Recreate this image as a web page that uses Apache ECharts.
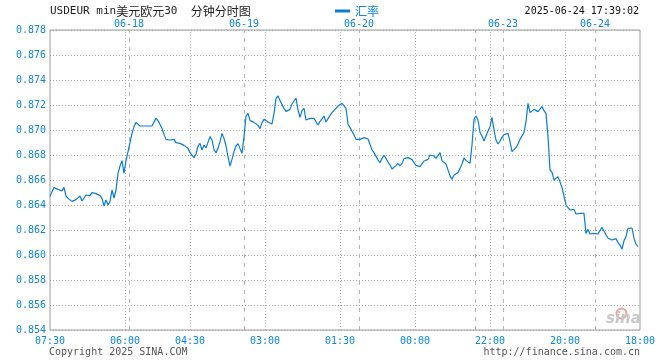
<!DOCTYPE html>
<html>
<head>
<meta charset="utf-8">
<script src="https://cdn.jsdelivr.net/npm/echarts@6/dist/echarts.min.js"></script>
<style>html,body{margin:0;padding:0;background:#fff}#c{width:660px;height:360px}</style>
</head>
<body>
<div id="c"></div>
<script>
// USD/EUR rate, one sample per slot (295 slots across the chart)
const rates = [
0.86467,0.86507,0.86539,0.86552,0.86525,0.86517,0.86512,0.86541,0.86472,0.86453,
0.86443,0.86429,0.86427,0.86443,0.86459,0.86472,0.86432,0.86435,0.86480,0.86469,
0.86475,0.86499,0.86501,0.86491,0.86483,0.86475,0.86453,0.86392,0.86440,0.86400,
0.86427,0.86520,0.86456,0.86520,0.86653,0.86712,0.86755,0.86653,0.86755,0.86827,
0.86901,0.86973,0.87027,0.87061,0.87059,0.87032,0.87021,0.87032,0.87048,0.87032,
0.87032,0.87032,0.87032,0.87093,0.87075,0.87045,0.87013,0.86965,0.86925,0.86915,
0.86920,0.86907,0.86925,0.86899,0.86899,0.86893,0.86880,0.86877,0.86877,0.86853,
0.86819,0.86808,0.86779,0.86808,0.86872,0.86893,0.86840,0.86880,0.86856,0.86845,
0.86947,0.86920,0.86840,0.86819,0.86853,0.86907,0.86973,0.86933,0.86872,0.86787,
0.86712,0.86765,0.86827,0.86872,0.86891,0.86901,0.86813,0.86947,0.87112,0.87133,
0.87077,0.87061,0.87061,0.87053,0.87037,0.87011,0.87059,0.87085,0.87075,0.87064,
0.87064,0.87048,0.87133,0.87253,0.87272,0.87235,0.87205,0.87173,0.87149,0.87136,
0.87165,0.87208,0.87221,0.87256,0.87160,0.87101,0.87155,0.87173,0.87080,0.87091,
0.87093,0.87093,0.87093,0.87099,0.87040,0.87069,0.87088,0.87112,0.87064,0.87075,
0.87117,0.87139,0.87152,0.87173,0.87192,0.87197,0.87213,0.87219,0.87173,0.87048,
0.87019,0.87011,0.86960,0.86925,0.86925,0.86925,0.86933,0.86939,0.86933,0.86928,
0.86915,0.86840,0.86819,0.86813,0.86760,0.86739,0.86773,0.86797,0.86773,0.86744,
0.86720,0.86688,0.86701,0.86715,0.86733,0.86712,0.86733,0.86771,0.86779,0.86779,
0.86779,0.86763,0.86739,0.86717,0.86712,0.86707,0.86715,0.86752,0.86747,0.86765,
0.86800,0.86787,0.86792,0.86773,0.86773,0.86819,0.86755,0.86755,0.86728,0.86680,
0.86635,0.86605,0.86640,0.86653,0.86659,0.86693,0.86728,0.86776,0.86757,0.86744,
0.86733,0.86880,0.87085,0.87112,0.87080,0.86981,0.86952,0.86912,0.86901,0.86992,
0.87027,0.87101,0.87000,0.86920,0.86888,0.86912,0.86941,0.86963,0.86973,0.86973,
0.86907,0.86827,0.86835,0.86859,0.86888,0.86925,0.86939,0.86979,0.87067,0.87213,
0.87139,0.87139,0.87165,0.87181,0.87147,0.87155,0.87187,0.87155,0.87133,0.86947,
0.86680,0.86661,0.86600,0.86587,0.86627,0.86621,0.86541,0.86472,0.86400,0.86379,
0.86360,0.86368,0.86365,0.86328,0.86320,0.86333,0.86333,0.86333,0.86173,0.86205,
0.86168,0.86181,0.86173,0.86187,0.86168,0.86173,0.86221,0.86205,0.86160,0.86136,
0.86120,0.86120,0.86120,0.86131,0.86099,0.86080,0.86045,0.86115,0.86147,0.86213,
0.86219,0.86216,0.86133,0.86088,0.86067
];
const slotCount = 295;
// bottom time labels and their slot positions
const timeLabels = ['07:30','06:00','04:30','03:00','01:30','00:00','22:00','20:00','18:00'];
const timeSlots  = [0, 37.5, 70, 107.5, 145, 182.5, 220, 257.5, 295];
// day separators (dashed) and top date labels
const daySlots  = [39.5, 97, 154.5, 212.5, 226.5, 272.5];
const dateLabels = ['06-18','06-19','06-20','06-23','06-24'];
const dateSlots  = [39.5, 97, 154.5, 226.5, 272.5];
const yMin = 0.854, yMax = 0.878, yStep = 0.002;

const BLUE = '#0d85d8';
const LINE = '#0a7dd0';
const GRIDC = '#aaaaaa';
const MONO = '"DejaVu Sans Mono", "Liberation Mono", monospace';

const chart = echarts.init(document.getElementById('c'), null, {renderer: 'canvas'});
const data = rates.map((v, i) => [i, v]);

const markData = [];
timeSlots.slice(1, -1).forEach(s => markData.push({xAxis: s, lineStyle: {type: [1, 2], color: GRIDC, width: 1}}));
daySlots.forEach(s => markData.push({xAxis: s, lineStyle: {type: [4, 5], color: '#b4b4b4', width: 1}}));

chart.setOption({
  animation: false,
  grid: {left: 50, right: 20, top: 30, bottom: 30, show: true, borderColor: '#999', borderWidth: 1, backgroundColor: 'transparent'},
  legend: {
    show: true, left: 330, top: 0, icon: 'rect', itemWidth: 15, itemHeight: 3, itemGap: 5,
    textStyle: {color: BLUE, fontSize: 12, fontFamily: '"Noto Sans CJK SC", sans-serif'},
    data: [{name: '汇率'}]
  },
  xAxis: [
    {
      type: 'value', min: 0, max: slotCount, position: 'bottom',
      axisLine: {show: false}, axisTick: {show: false}, splitLine: {show: false},
      axisLabel: {
        customValues: timeSlots, margin: 6, color: BLUE, fontSize: 10, fontFamily: MONO,
        formatter: v => timeLabels[timeSlots.indexOf(v)] || ''
      }
    },
    {
      type: 'value', min: 0, max: slotCount, position: 'top',
      axisLine: {show: false}, axisTick: {show: false}, splitLine: {show: false},
      axisLabel: {
        customValues: dateSlots, margin: 1, color: BLUE, fontSize: 10, fontFamily: MONO,
        formatter: v => dateLabels[dateSlots.indexOf(v)] || ''
      }
    }
  ],
  yAxis: {
    type: 'value', min: yMin, max: yMax, interval: yStep,
    axisLine: {show: false}, axisTick: {show: false},
    splitLine: {show: true, lineStyle: {type: [1, 2], color: GRIDC, width: 1}},
    axisLabel: {margin: 4, color: BLUE, fontSize: 10, fontFamily: MONO, formatter: v => v.toFixed(3)}
  },
  series: [{
    name: '汇率', type: 'line', data: data, showSymbol: false, z: 3,
    lineStyle: {color: LINE, width: 1.2}, itemStyle: {color: LINE},
    markLine: {silent: true, symbol: ['none', 'none'], z: 1, label: {show: false}, data: markData}
  }],
  graphic: [
    {type: 'text', left: 50, top: 5, z: 10, style: {
      text: '{a|USDEUR min}{b|美元欧元}{a|30  }{b|分钟分时图}',
      rich: {
        a: {fontFamily: MONO, fontSize: 11, fill: '#222'},
        b: {fontFamily: '"Noto Sans CJK SC", sans-serif', fontSize: 12, fill: '#222'}
      }
    }},
    {type: 'text', right: 21, top: 6, z: 10, style: {text: '2025-06-24 17:39:02', fontFamily: MONO, fontSize: 10, fill: '#111'}},
    {type: 'text', left: 49, top: 347, z: 10, style: {text: 'Copyright 2025 SINA.COM', fontFamily: MONO, fontSize: 10, fill: '#555'}},
    {type: 'text', right: 20, top: 347, z: 10, style: {text: 'http://finance.sina.com.cn', fontFamily: MONO, fontSize: 10, fill: '#555'}},
    {type: 'circle', left: 614, top: 306, z: 10, shape: {r: 5}, style: {fill: 'none', stroke: '#f0a0a0', lineWidth: 2}},
    {type: 'text', left: 606, top: 312, z: 10, style: {text: 'sina', fontFamily: '"DejaVu Sans", sans-serif', fontSize: 15, fontWeight: 'bold', fontStyle: 'italic', fill: '#c8c8c8'}}
  ]
});
</script>
</body>
</html>
